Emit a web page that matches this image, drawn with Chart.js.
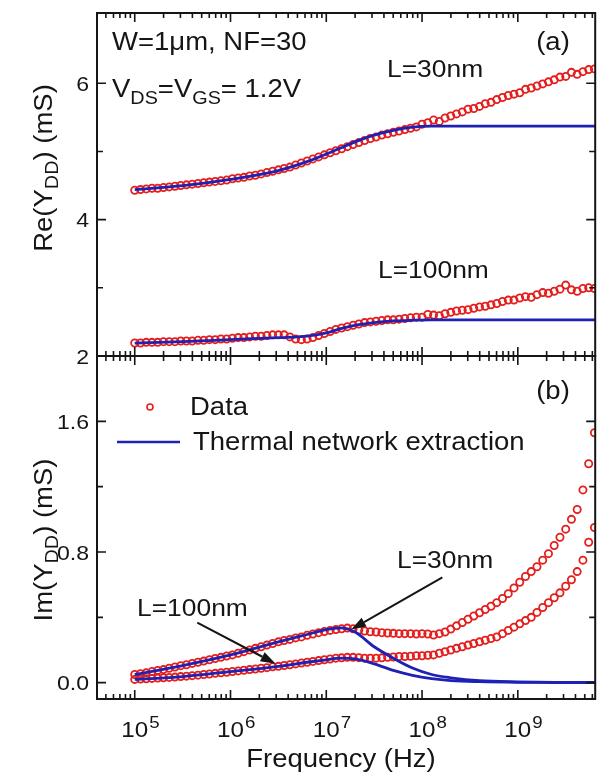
<!DOCTYPE html>
<html>
<head>
<meta charset="utf-8">
<script src="https://cdn.jsdelivr.net/npm/chart.js@4"></script>
<style>
  body { margin: 0; background: #fff; }
  canvas { position: absolute; left: 0; top: 0; }
</style>
</head>
<body>
<canvas id="re" width="601" height="775"></canvas>
<canvas id="im" width="601" height="775"></canvas>
<script>
// measured points, log10 of frequency in Hz
const dataExp = [5.00, 5.06, 5.12, 5.18, 5.24, 5.30, 5.36, 5.42, 5.48, 5.54,
  5.60, 5.66, 5.72, 5.78, 5.84, 5.90, 5.96, 6.02, 6.08, 6.14,
  6.20, 6.26, 6.32, 6.38, 6.44, 6.50, 6.56, 6.62, 6.68, 6.74,
  6.80, 6.86, 6.92, 6.98, 7.04, 7.10, 7.16, 7.22, 7.28, 7.34,
  7.40, 7.46, 7.52, 7.58, 7.64, 7.70, 7.76, 7.82, 7.88, 7.94,
  8.00, 8.06, 8.12, 8.18, 8.24, 8.30, 8.36, 8.42, 8.48, 8.54,
  8.60, 8.66, 8.72, 8.78, 8.84, 8.90, 8.96, 9.02, 9.08, 9.14,
  9.20, 9.26, 9.32, 9.38, 9.44, 9.50, 9.56, 9.62, 9.68, 9.74,
  9.80];

// Re(Ydd) in mS
const reData30 = [4.43, 4.44, 4.45, 4.46, 4.46, 4.47, 4.48, 4.49, 4.50, 4.51,
  4.52, 4.53, 4.54, 4.55, 4.56, 4.57, 4.58, 4.60, 4.61, 4.62,
  4.64, 4.65, 4.67, 4.69, 4.71, 4.73, 4.75, 4.77, 4.80, 4.83,
  4.86, 4.89, 4.92, 4.95, 4.98, 5.01, 5.04, 5.07, 5.10, 5.13,
  5.16, 5.19, 5.21, 5.24, 5.26, 5.28, 5.30, 5.32, 5.34, 5.36,
  5.40, 5.42, 5.46, 5.44, 5.49, 5.52, 5.55, 5.58, 5.62, 5.63,
  5.66, 5.70, 5.72, 5.76, 5.79, 5.82, 5.84, 5.86, 5.91, 5.93,
  5.96, 5.99, 6.02, 6.05, 6.09, 6.10, 6.16, 6.13, 6.17, 6.20,
  6.21];
const reData100 = [2.19, 2.19, 2.20, 2.20, 2.20, 2.21, 2.21, 2.21, 2.22, 2.22,
  2.22, 2.23, 2.23, 2.24, 2.24, 2.25, 2.25, 2.26, 2.27, 2.27,
  2.28, 2.29, 2.29, 2.30, 2.31, 2.31, 2.31, 2.28, 2.25, 2.24,
  2.25, 2.27, 2.30, 2.33, 2.36, 2.39, 2.41, 2.43, 2.45, 2.47,
  2.49, 2.50, 2.51, 2.52, 2.53, 2.53, 2.54, 2.55, 2.56, 2.57,
  2.57, 2.61, 2.60, 2.59, 2.62, 2.64, 2.66, 2.67, 2.68, 2.70,
  2.72, 2.73, 2.75, 2.77, 2.80, 2.82, 2.82, 2.85, 2.87, 2.86,
  2.90, 2.93, 2.92, 2.95, 2.98, 3.04, 2.97, 2.95, 2.99, 3.00,
  2.99];

// Im(Ydd) in mS
const imData30 = [0.050, 0.055, 0.060, 0.068, 0.075, 0.080, 0.088, 0.096, 0.104, 0.110,
  0.118, 0.125, 0.132, 0.140, 0.148, 0.155, 0.163, 0.170, 0.180, 0.190,
  0.200, 0.210, 0.220, 0.230, 0.240, 0.250, 0.258, 0.265, 0.274, 0.280,
  0.290, 0.298, 0.306, 0.313, 0.320, 0.325, 0.330, 0.334, 0.330, 0.322,
  0.316, 0.312, 0.310, 0.306, 0.304, 0.302, 0.300, 0.300, 0.300, 0.298,
  0.300, 0.298, 0.292, 0.300, 0.310, 0.328, 0.348, 0.368, 0.388, 0.408,
  0.428, 0.448, 0.468, 0.490, 0.515, 0.545, 0.580, 0.615, 0.650, 0.680,
  0.710, 0.750, 0.790, 0.840, 0.890, 0.940, 1.000, 1.060, 1.180, 1.340,
  1.530];
const imData100 = [0.020, 0.022, 0.024, 0.026, 0.028, 0.030, 0.032, 0.034, 0.037, 0.040,
  0.043, 0.046, 0.050, 0.053, 0.057, 0.060, 0.064, 0.068, 0.072, 0.076,
  0.080, 0.084, 0.088, 0.092, 0.097, 0.100, 0.105, 0.110, 0.115, 0.120,
  0.125, 0.130, 0.135, 0.140, 0.145, 0.150, 0.152, 0.155, 0.155, 0.153,
  0.150, 0.150, 0.150, 0.152, 0.155, 0.157, 0.160, 0.160, 0.162, 0.165,
  0.165, 0.168, 0.170, 0.180, 0.190, 0.200, 0.210, 0.220, 0.230, 0.240,
  0.250, 0.260, 0.270, 0.280, 0.300, 0.320, 0.340, 0.360, 0.380, 0.400,
  0.430, 0.460, 0.490, 0.520, 0.550, 0.590, 0.630, 0.680, 0.750, 0.860,
  0.950];

// thermal network extraction curves
const fitExp = [5.0, 5.5, 6.0, 6.5, 6.8, 7.0, 7.15, 7.3, 7.5, 7.7, 7.9, 8.1, 8.3, 8.6, 9.0, 9.4, 9.81];
const reFit30 = [4.44, 4.50, 4.59, 4.72, 4.85, 4.96, 5.05, 5.14, 5.24, 5.31, 5.355, 5.37, 5.37, 5.37, 5.37, 5.37, 5.37];
const reFit100 = [2.19, 2.21, 2.24, 2.27, 2.29, 2.34, 2.40, 2.45, 2.49, 2.515, 2.525, 2.53, 2.53, 2.53, 2.53, 2.53, 2.53];
const imFit30 = [0.050, 0.105, 0.170, 0.250, 0.295, 0.325, 0.335, 0.310, 0.220, 0.150, 0.090, 0.050, 0.030, 0.012, 0.005, 0.002, 0.001];
const imFit100 = [0.020, 0.037, 0.068, 0.100, 0.125, 0.140, 0.150, 0.145, 0.115, 0.075, 0.045, 0.025, 0.013, 0.006, 0.002, 0.001, 0.000];

// axis ticks
const xLabelVals = [1e5, 1e6, 1e7, 1e8, 1e9];
const xLabelExp = ['5', '6', '7', '8', '9'];
const reTicks = [2, 4, 6], reTickLabels = ['2', '4', '6'], reMinor = [3, 5];
const imTicks = [0, 0.8, 1.6], imTickLabels = ['0.0', '0.8', '1.6'], imMinor = [0.4, 1.2];

const X_MIN = Math.pow(10, 4.606);
const X_MAX = Math.pow(10, 9.808);
const RED = 'rgb(228,30,28)';
const BLUE = 'rgb(30,34,180)';
const INK = '#151515';
const FONT = '"Liberation Sans", Arial, Helvetica, sans-serif';
const SX = 1.1; // glyphs are drawn a little wide

const xTicks = [];
[1e4, 1e5, 1e6, 1e7, 1e8, 1e9].forEach(d => {
  for (let m = 1; m <= 9; m++) xTicks.push({ v: m * d, major: m === 1 });
});

const pts = (exps, vals) => exps.map((e, i) => ({ x: Math.pow(10, e), y: vals[i] }));

function dataSet(vals) {
  return {
    data: pts(dataExp, vals), order: 2, showLine: false,
    pointStyle: 'circle', pointRadius: 3.6, borderWidth: 1.8,
    borderColor: RED, backgroundColor: 'rgba(255,255,255,0)'
  };
}
function fitSet(vals) {
  return {
    data: pts(fitExp, vals), order: 1, showLine: true, pointRadius: 0,
    borderColor: BLUE, borderWidth: 2.8, cubicInterpolationMode: 'monotone'
  };
}

const T = (t, size = 25, dy = 0) => ({ t, size, dy });

function rich(ctx, parts, x, y, align, angle) {
  ctx.save();
  ctx.translate(x, y);
  if (angle) ctx.rotate(angle);
  ctx.scale(SX, 1);
  ctx.textAlign = 'left';
  ctx.textBaseline = 'alphabetic';
  ctx.fillStyle = INK;
  let w = 0;
  parts.forEach(p => { ctx.font = p.size + 'px ' + FONT; w += ctx.measureText(p.t).width; });
  let cx = align === 'center' ? -w / 2 : align === 'right' ? -w : 0;
  parts.forEach(p => {
    ctx.font = p.size + 'px ' + FONT;
    ctx.fillText(p.t, cx, p.dy);
    cx += ctx.measureText(p.t).width;
  });
  ctx.restore();
}

function arrow(ctx, x0, y0, x1, y1) {
  const ang = Math.atan2(y1 - y0, x1 - x0), len = 15, half = 5;
  const bx = x1 - len * Math.cos(ang), by = y1 - len * Math.sin(ang);
  ctx.strokeStyle = INK;
  ctx.fillStyle = INK;
  ctx.lineWidth = 2;
  ctx.beginPath();
  ctx.moveTo(x0, y0);
  ctx.lineTo(bx, by);
  ctx.stroke();
  ctx.beginPath();
  ctx.moveTo(x1, y1);
  ctx.lineTo(bx + half * Math.sin(ang), by - half * Math.cos(ang));
  ctx.lineTo(bx - half * Math.sin(ang), by + half * Math.cos(ang));
  ctx.closePath();
  ctx.fill();
}

function drawFrame(chart, cfg) {
  const ctx = chart.ctx, a = chart.chartArea;
  const sx = chart.scales.x, sy = chart.scales.y;
  ctx.save();
  ctx.strokeStyle = INK;
  ctx.lineWidth = 1.6;
  ctx.beginPath();
  xTicks.forEach(t => {
    if (t.v < sx.min || t.v > sx.max) return;
    const px = sx.getPixelForValue(t.v), len = t.major ? 9 : 5;
    ctx.moveTo(px, a.bottom); ctx.lineTo(px, a.bottom - len);
    ctx.moveTo(px, a.top); ctx.lineTo(px, a.top + len);
  });
  cfg.yMajor.concat(cfg.yMinor).forEach((v, i) => {
    const py = sy.getPixelForValue(v), len = i < cfg.yMajor.length ? 9 : 6;
    ctx.moveTo(a.left, py); ctx.lineTo(a.left + len, py);
    ctx.moveTo(a.right, py); ctx.lineTo(a.right - len, py);
  });
  ctx.stroke();
  ctx.lineWidth = 2;
  ctx.strokeRect(a.left, a.top, a.right - a.left, a.bottom - a.top);

  cfg.yMajor.forEach((v, i) => {
    rich(ctx, [T(cfg.yLabels[i], 21)], a.left - 8, sy.getPixelForValue(v) + 7.5, 'right');
  });
  rich(ctx, cfg.title, 52, cfg.titleY, 'center', -Math.PI / 2);
  cfg.extra(ctx, sx, sy);
  ctx.restore();
}

function panel(id, yMin, yMax, datasets, pad, cfg) {
  return new Chart(document.getElementById(id), {
    type: 'scatter',
    data: { datasets },
    options: {
      responsive: false,
      animation: false,
      events: [],
      layout: { padding: pad },
      plugins: { legend: { display: false }, tooltip: { enabled: false } },
      scales: {
        x: { type: 'logarithmic', min: X_MIN, max: X_MAX, display: false },
        y: { type: 'linear', min: yMin, max: yMax, display: false }
      }
    },
    plugins: [{ id: 'frame', afterDraw: chart => drawFrame(chart, cfg) }]
  });
}

// (a) real part
panel('re', 2, 7.03,
  [fitSet(reFit30), fitSet(reFit100), dataSet(reData30), dataSet(reData100)],
  { left: 97, right: 2, top: 13, bottom: 419 },
  {
    yMajor: reTicks, yMinor: reMinor, yLabels: reTickLabels, titleY: 168,
    title: [T('Re(Y'), T('DD', 18, 6), T(') (mS)')],
    extra: ctx => {
      rich(ctx, [T('W=1μm, NF=30')], 112, 50, 'left');
      rich(ctx, [T('V'), T('DS', 18, 7), T('=V'), T('GS', 18, 7), T('= 1.2V')], 112, 97, 'left');
      rich(ctx, [T('(a)')], 553, 50, 'center');
      rich(ctx, [T('L=30nm', 24)], 387, 77, 'left');
      rich(ctx, [T('L=100nm', 24)], 378, 278, 'left');
    }
  });

// (b) imaginary part
panel('im', -0.1, 2.0,
  [fitSet(imFit30), fitSet(imFit100), dataSet(imData30), dataSet(imData100)],
  { left: 97, right: 2, top: 356, bottom: 76 },
  {
    yMajor: imTicks, yMinor: imMinor, yLabels: imTickLabels, titleY: 540,
    title: [T('Im(Y'), T('DD', 18, 6), T(') (mS)')],
    extra: (ctx, sx, sy) => {
      // decade labels
      ctx.font = '22px ' + FONT;
      const w10 = ctx.measureText('10').width * SX;
      xLabelVals.forEach((v, i) => {
        const px = sx.getPixelForValue(v);
        rich(ctx, [T('10', 22)], px, 737, 'center');
        rich(ctx, [T(xLabelExp[i], 17)], px + w10 / 2 + 1, 728, 'left');
      });
      rich(ctx, [T('Frequency (Hz)')], 341, 767, 'center');

      // legend
      ctx.strokeStyle = RED;
      ctx.lineWidth = 1.6;
      ctx.beginPath();
      ctx.arc(150, 407, 3, 0, Math.PI * 2);
      ctx.stroke();
      rich(ctx, [T('Data')], 190, 415, 'left');
      ctx.strokeStyle = BLUE;
      ctx.lineWidth = 2.6;
      ctx.beginPath();
      ctx.moveTo(117, 442);
      ctx.lineTo(180, 442);
      ctx.stroke();
      rich(ctx, [T('Thermal network extraction')], 193, 450, 'left');
      rich(ctx, [T('(b)')], 553, 399, 'center');

      rich(ctx, [T('L=30nm', 24)], 397, 568, 'left');
      rich(ctx, [T('L=100nm', 24)], 137, 616, 'left');
      const P = (e, v) => [sx.getPixelForValue(Math.pow(10, e)), sy.getPixelForValue(v)];
      const a0 = P(8.212, 0.644), a1 = P(7.259, 0.325);
      arrow(ctx, a0[0], a0[1], a1[0], a1[1]);
      const b0 = P(5.653, 0.368), b1 = P(6.471, 0.116);
      arrow(ctx, b0[0], b0[1], b1[0], b1[1]);
    }
  });
</script>
</body>
</html>
